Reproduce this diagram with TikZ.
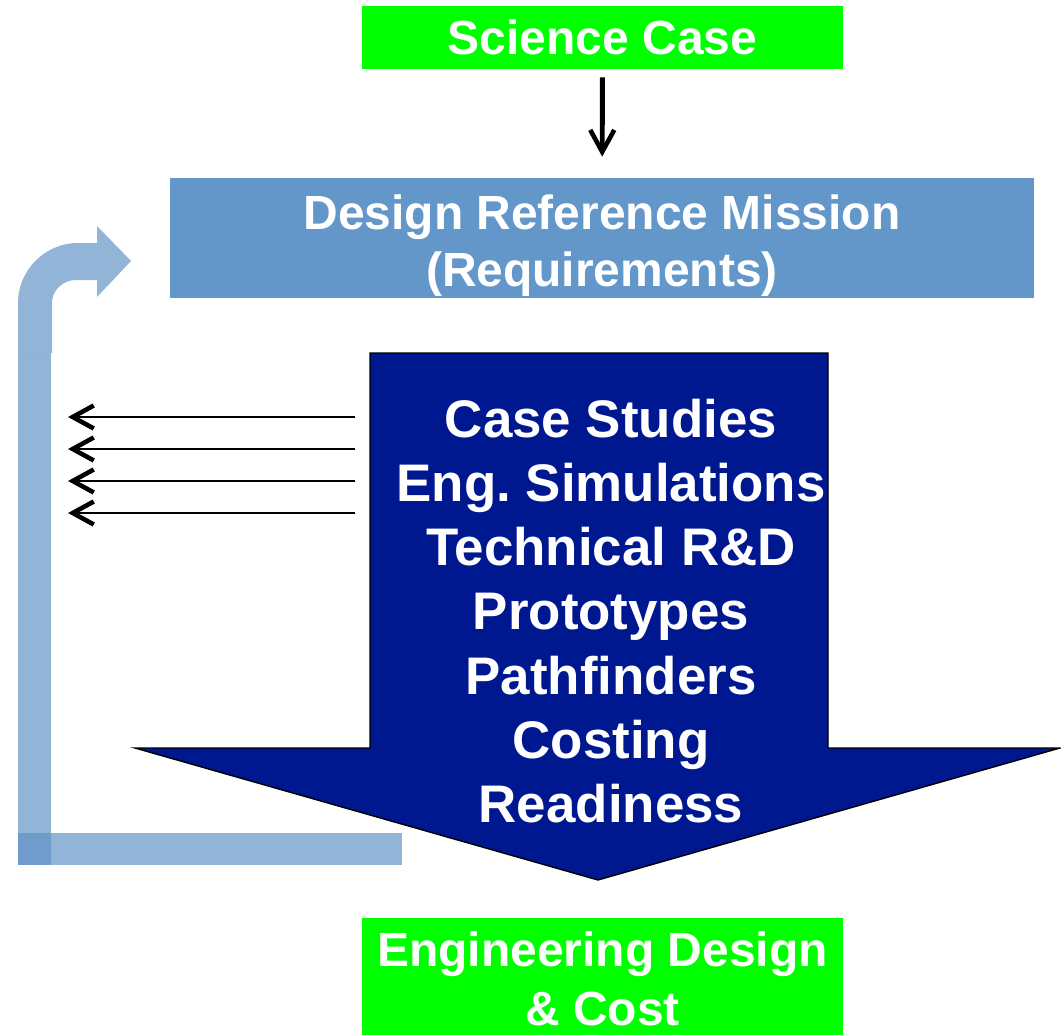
\documentclass[tikz,border=0pt]{standalone}
\usepackage{fontspec}
\setmainfont{Liberation Sans}
\usetikzlibrary{arrows.meta}

\definecolor{scigreen}{RGB}{0,255,0}
\definecolor{drmblue}{RGB}{99,150,201}
\definecolor{studynavy}{RGB}{0,24,143}
\definecolor{loopblue}{RGB}{93,144,196}

\begin{document}
\begin{tikzpicture}[x=0.02cm,y=-0.02cm,
        greenbox/.style={fill=scigreen,minimum width=9.62cm,inner sep=0pt},
        drmbox/.style={fill=drmblue,minimum width=17.28cm,minimum height=2.4cm,inner sep=0pt},
        boxtext/.style={text=white,align=center,inner sep=0pt,
          font=\fontsize{27.3}{33}\selectfont\bfseries},
        studytext/.style={text=white,align=center,inner sep=0pt,
          font=\fontsize{30.1}{36.5}\selectfont\bfseries},
        loopbar/.style={fill=loopblue,fill opacity=0.67},
        flowarrow/.style={-{Straight Barb[length=0.44cm,width=0.48cm,line width=2.6pt]},
          line width=2.8pt,shorten <=0.16cm,shorten >=0.42cm},
        feedarrow/.style={-{Straight Barb[length=0.42cm,width=0.46cm,line width=2.6pt]},
          line width=1.1pt}]

  \useasboundingbox (0,0) rectangle (1061,1034);

  % feedback loop
  \fill[loopbar] (18,353) -- (18,303) .. controls (18,270) and (45,243) .. (78,243)
        -- (97,243) -- (97,226) -- (131,261) -- (97,297) -- (97,280) -- (76,280)
        .. controls (63,280) and (52,290) .. (52,303) -- (52,353) -- cycle;
  \fill[loopbar] (18,353) rectangle (51,865);
  \fill[loopbar] (18,833) rectangle (402,865);

  % big down arrow
  \draw[fill=studynavy,line width=0.8pt] (370,353) -- (828,353) -- (828,748)
        -- (1060,748) -- (598,880) -- (135,748) -- (370,748) -- cycle;
  \node[studytext] (studies) at (611,611)
        {Case Studies\\Eng.\ Simulations\\Technical R\&D\\Prototypes\\Pathfinders\\Costing\\Readiness};

  \node[greenbox,minimum height=1.26cm] (science) at (602.5,37.5) {};
  \node[boxtext] (scitext) at (science) {Science Case};
  \node[drmbox] (drm) at (602,238) {};
  \node[boxtext,font=\fontsize{27.3}{32.4}\selectfont\bfseries,yshift=-0.16cm] (drmtext) at (drm)
        {Design Reference Mission\\(Requirements)};
  \node[greenbox,minimum height=2.54cm] (engdesign) at (602.5,981.5) {};
  \node[boxtext,font=\fontsize{27.3}{33.5}\selectfont\bfseries,yshift=0.06cm] (engtext) at (engdesign)
        {Engineering Design\\\& Cost};

  \draw[flowarrow] (science) -- (drm);

  \coordinate (fb1) at (355,417);  \coordinate (fb1end) at (68,417);
  \coordinate (fb2) at (355,449);  \coordinate (fb2end) at (68,449);
  \coordinate (fb3) at (355,481);  \coordinate (fb3end) at (68,481);
  \coordinate (fb4) at (355,513);  \coordinate (fb4end) at (68,513);

  \path[feedarrow] (fb1) edge (fb1end)
        (fb2) edge (fb2end)
        (fb3) edge (fb3end)
        (fb4) edge (fb4end);

\end{tikzpicture}
\end{document}
